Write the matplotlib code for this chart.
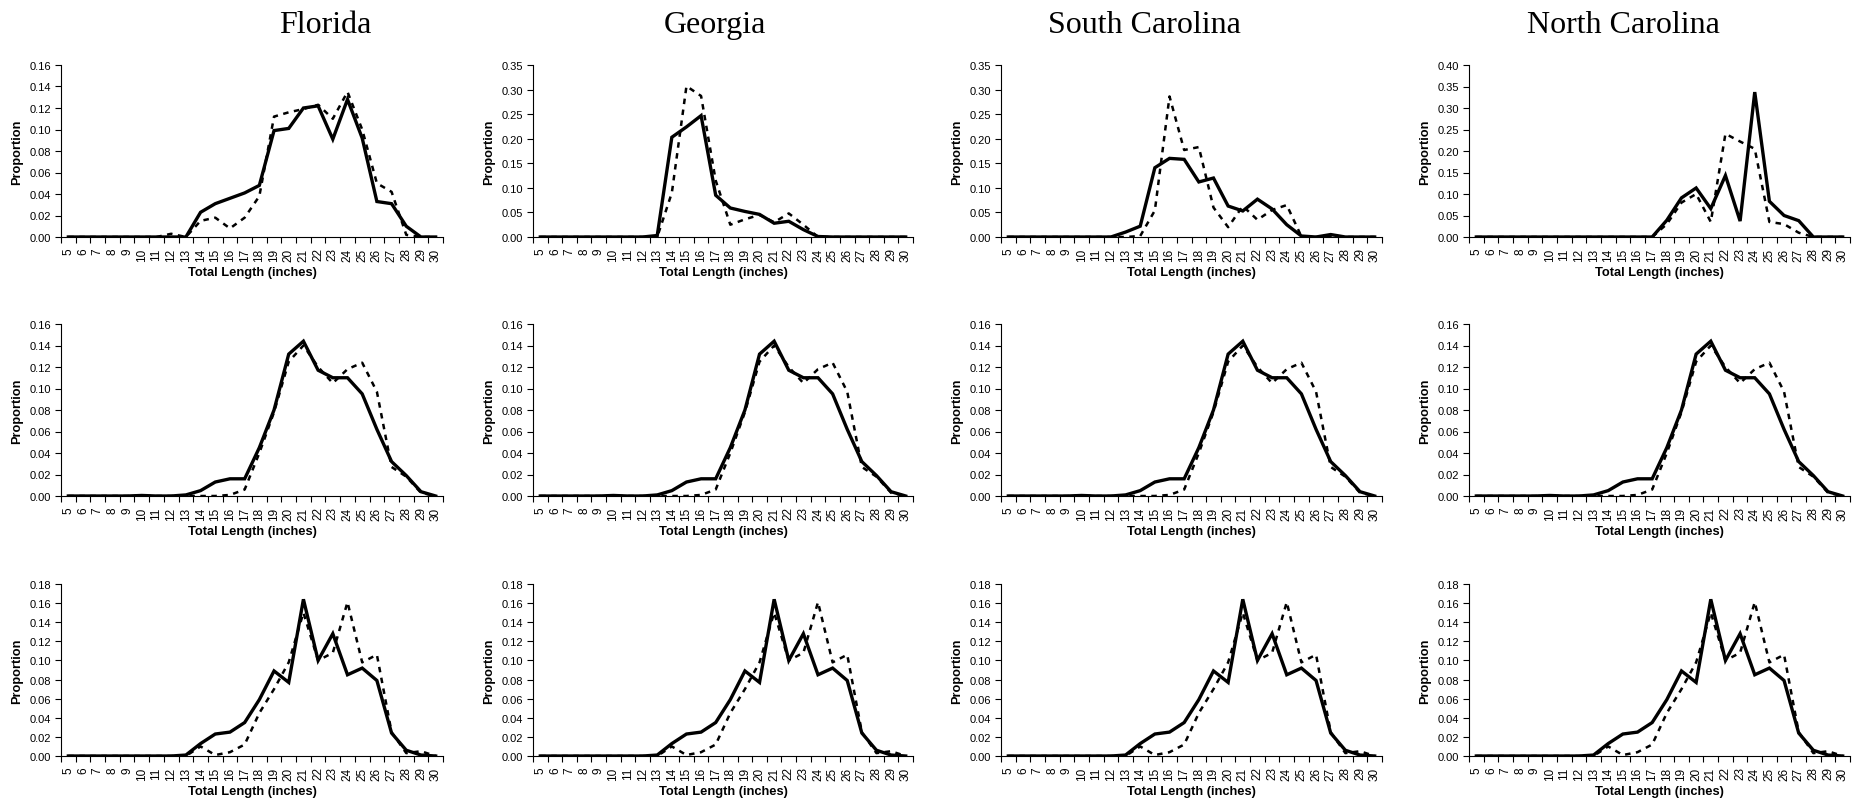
import matplotlib
matplotlib.use("Agg")
import matplotlib.pyplot as plt
import numpy as np
from matplotlib.ticker import FixedLocator, FormatStrFormatter

plt.rcParams['font.family'] = ['Liberation Sans', 'DejaVu Sans']

lengths = list(range(5, 31))
states = ["Florida", "Georgia", "South Carolina", "North Carolina"]

# Row 1 (state-specific) -- solid and dashed series
fl_solid = [0, 0, 0, 0, 0, 0, 0, 0, 0, 0.023, 0.031, 0.036, 0.041, 0.048, 0.099, 0.101,
            0.120, 0.122, 0.091, 0.128, 0.092, 0.033, 0.031, 0.010, 0, 0]
fl_dash = [0, 0, 0, 0, 0, 0, 0, 0.003, 0, 0.015, 0.018, 0.008, 0.018, 0.038, 0.112, 0.116,
           0.119, 0.123, 0.110, 0.135, 0.100, 0.050, 0.042, 0.002, 0, 0]
ga_solid = [0, 0, 0, 0, 0, 0, 0, 0, 0.003, 0.203, 0.224, 0.247, 0.085, 0.059, 0.052, 0.046,
            0.028, 0.032, 0.015, 0.001, 0, 0, 0, 0, 0, 0]
ga_dash = [0, 0, 0, 0, 0, 0, 0, 0, 0, 0.090, 0.307, 0.287, 0.115, 0.025, 0.036, 0.045,
           0.030, 0.048, 0.025, 0, 0, 0, 0, 0, 0, 0]
sc_solid = [0, 0, 0, 0, 0, 0, 0, 0, 0.010, 0.022, 0.141, 0.160, 0.158, 0.112, 0.120, 0.063,
            0.053, 0.077, 0.057, 0.025, 0.002, 0, 0.005, 0, 0, 0]
sc_dash = [0, 0, 0, 0, 0, 0, 0, 0, 0, 0.002, 0.054, 0.286, 0.177, 0.183, 0.060, 0.020,
           0.063, 0.035, 0.055, 0.065, 0.001, 0, 0, 0, 0, 0]
nc_solid = [0, 0, 0, 0, 0, 0, 0, 0, 0, 0, 0, 0, 0, 0.039, 0.091, 0.114,
            0.066, 0.143, 0.037, 0.337, 0.083, 0.050, 0.038, 0, 0, 0]
nc_dash = [0, 0, 0, 0, 0, 0, 0, 0, 0, 0, 0, 0, 0, 0.030, 0.080, 0.100,
           0.035, 0.240, 0.222, 0.205, 0.035, 0.030, 0.010, 0, 0, 0]

# Row 2 (same in every column)
r2_solid = [0, 0, 0, 0, 0, 0.0005, 0, 0, 0.001, 0.005, 0.013, 0.016, 0.016, 0.045, 0.080, 0.132,
            0.144, 0.117, 0.110, 0.110, 0.095, 0.062, 0.032, 0.019, 0.004, 0]
r2_dash = [0, 0, 0, 0, 0, 0, 0, 0, 0, 0, 0, 0.001, 0.006, 0.040, 0.078, 0.125,
           0.140, 0.120, 0.105, 0.118, 0.124, 0.097, 0.027, 0.018, 0.003, 0]

# Row 3 (same in every column)
r3_solid = [0, 0, 0, 0, 0, 0, 0, 0, 0.001, 0.013, 0.023, 0.025, 0.035, 0.059, 0.089, 0.077,
            0.164, 0.100, 0.128, 0.085, 0.092, 0.079, 0.024, 0.006, 0.001, 0]
r3_dash = [0, 0, 0, 0, 0, 0, 0, 0, 0, 0.010, 0.001, 0.004, 0.012, 0.045, 0.070, 0.098,
           0.150, 0.100, 0.108, 0.161, 0.098, 0.106, 0.025, 0.003, 0.005, 0]

row1 = [(fl_solid, fl_dash, 0.16, 0.02), (ga_solid, ga_dash, 0.35, 0.05),
        (sc_solid, sc_dash, 0.35, 0.05), (nc_solid, nc_dash, 0.40, 0.05)]
row2 = (r2_solid, r2_dash, 0.16, 0.02)
row3 = (r3_solid, r3_dash, 0.18, 0.02)

W, H = 1860, 804
fig = plt.figure(figsize=(W / 100, H / 100), dpi=100)

col_lr = [(61, 443), (533, 913), (1001, 1382), (1469, 1850)]
row_tb = [(66, 238), (325, 497), (585, 757)]
title_x = [325, 715, 1144, 1623]

def draw(ax, solid, dash, ymax, step):
    x = np.array(lengths)
    ax.plot(x, dash, color='black', lw=1.8, ls=(0, (2.2, 2.2)), solid_capstyle='butt')
    ax.plot(x, solid, color='black', lw=2.4, solid_joinstyle='miter')
    ax.set_xlim(4.5, 30.5)
    ax.set_ylim(0, ymax)
    for s in ['top', 'right']:
        ax.spines[s].set_visible(False)
    for s in ['left', 'bottom']:
        ax.spines[s].set_linewidth(0.8)
    ax.xaxis.set_major_locator(FixedLocator(lengths))
    ax.xaxis.set_minor_locator(FixedLocator(np.arange(4.5, 31, 1.0)))
    ax.set_xticklabels([str(v) for v in lengths], rotation=90, fontsize=8.5)
    ax.tick_params(axis='x', which='major', length=0, pad=7.5)
    ax.tick_params(axis='x', which='minor', length=4, width=0.8, direction='out')
    ax.set_yticks(np.round(np.arange(0, ymax + step / 2, step), 2))
    ax.yaxis.set_major_formatter(FormatStrFormatter('%.2f'))
    ax.tick_params(axis='y', labelsize=8, length=4, width=0.8, direction='out', pad=3)
    ax.set_xlabel('Total Length (inches)', fontsize=9.3, fontweight='bold', labelpad=4)
    ax.set_ylabel('Proportion', fontsize=9.2, fontweight='bold', labelpad=5)

for r, (t, b) in enumerate(row_tb):
    for c, (l, rr) in enumerate(col_lr):
        ax = fig.add_axes([l / W, 1 - b / H, (rr - l) / W, (b - t) / H])
        if r == 0:
            data = row1[c]
        elif r == 1:
            data = row2
        else:
            data = row3
        draw(ax, *data)

for c, name in enumerate(states):
    fig.text(title_x[c] / W, 1 - 33 / H, name, ha='center', va='baseline',
             fontsize=23, family='Liberation Serif')

fig.savefig('out.png', dpi=100)
